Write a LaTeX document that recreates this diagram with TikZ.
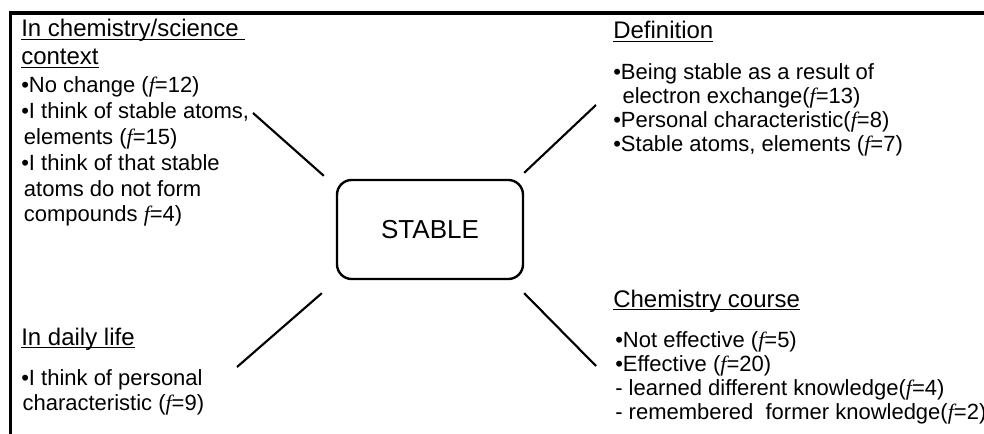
\documentclass[tikz,border=0pt]{standalone}
\usepackage{fontspec}
\setmainfont{Liberation Serif}
\setsansfont{Liberation Sans}
\renewcommand{\familydefault}{\sfdefault}
\newcommand{\freq}{{\rmfamily\itshape f}}
\newcommand{\headul}[1]{\setbox0=\hbox{#1}\rlap{\rule[-2.4pt]{\wd0}{1.1pt}}\box0}
\begin{document}
\begin{tikzpicture}[x=0.75pt,y=-0.75pt]
  \tikzstyle{centre} = [rectangle, rounded corners=11pt, draw=black, line width=1.8pt, minimum width=139.5pt, minimum height=74.25pt, font=\fontsize{19.5}{23}\selectfont]
  \tikzstyle{heading} = [anchor=base west, inner sep=0pt, align=left, font=\fontsize{18}{21}\selectfont]
  \tikzstyle{items} = [anchor=base west, inner sep=0pt, align=left]
  \tikzstyle{spoke} = [line width=1.6pt]
  \tikzstyle{frame} = [line width=2.6pt]

  \useasboundingbox (0,0) rectangle (984,434);
  \draw[frame] (984,13) -- (10.5,13) -- (10.5,434);

  \node (stable) [centre] at (430,229.5) {STABLE};

  % top left (base = last line)
  \node (ctx) [heading] at (21,65) {\headul{In chemistry/science\ }\\\headul{context}};
  \node (ctxlist) [items, font=\fontsize{16.5}{19.35}\selectfont] at (21,222) {•No change (\freq=12)\\
    •I think of stable atoms,\\
    \hspace*{2pt}elements (\freq=15)\\
    •I think of that stable\\
    \hspace*{2pt}atoms do not form\\
    \hspace*{2pt}compounds \freq=4)};

  % top right
  \node (def) [heading] at (613,39) {\headul{Definition}};
  \node (deflist) [items, font=\fontsize{16.5}{18.2}\selectfont] at (613,152) {•Being stable as a result of\\
    \hspace*{7pt}electron exchange(\freq=13)\\
    •Personal characteristic(\freq=8)\\
    •Stable atoms, elements (\freq=7)};

  % bottom left
  \node (life) [heading] at (21,345) {\headul{In daily life}};
  \node (lifelist) [items, font=\fontsize{16.5}{18.75}\selectfont] at (21,410) {•I think of personal\\
    \hspace*{1pt}characteristic (\freq=9)};

  % bottom right
  \node (course) [heading] at (613,307) {\headul{Chemistry course}};
  \node (courselist) [items, font=\fontsize{16.5}{17.8}\selectfont] at (615,419) {•Not effective (\freq=5)\\
    •Effective (\freq=20)\\
    - learned different knowledge(\freq=4)\\
    - remembered\ \ former knowledge(\freq=2)};

  % spokes
  \coordinate (ctxend) at (253,113);
  \coordinate (defend) at (596,105);
  \coordinate (lifeend) at (237,367);
  \coordinate (courseend) at (596,366);
  \draw[spoke] ([shift={(-12,-3)}]stable.north west) -- (ctxend);
  \draw[spoke] ([shift={(0,-6)}]stable.north east) -- (defend);
  \draw[spoke] ([shift={(-14,13)}]stable.south west) -- (lifeend);
  \draw[spoke] ([shift={(0,13)}]stable.south east) -- (courseend);
\end{tikzpicture}
\end{document}
